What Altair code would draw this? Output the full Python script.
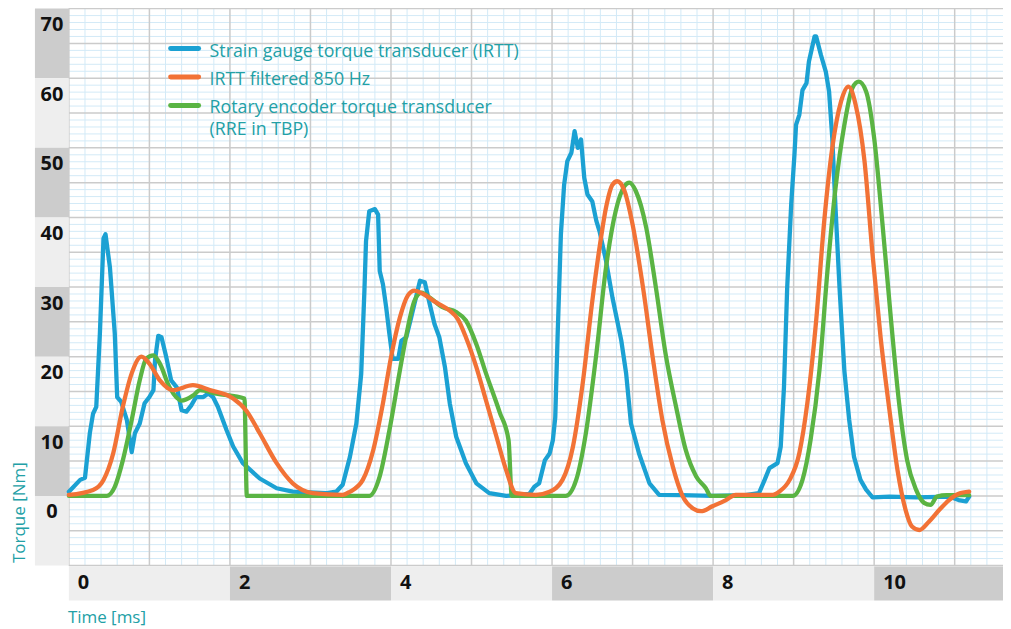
import altair as alt
import pandas as pd

# ---------------- data ----------------
blue_t = [0.00, 0.14, 0.20, 0.26, 0.30, 0.34, 0.385, 0.43, 0.455, 0.51,
          0.57, 0.60, 0.65, 0.72, 0.78, 0.82, 0.88, 0.94, 1.00, 1.05,
          1.07, 1.11, 1.15, 1.21, 1.27, 1.34, 1.40, 1.46, 1.52, 1.58,
          1.67, 1.73, 1.79, 1.85, 1.96, 2.04, 2.16, 2.37, 2.58, 2.78,
          3.20, 3.32, 3.40, 3.49, 3.57, 3.63, 3.67, 3.69, 3.73, 3.80,
          3.84, 3.86, 3.90, 3.94, 3.98, 4.02, 4.09, 4.13, 4.19, 4.25,
          4.31, 4.36, 4.42, 4.48, 4.54, 4.60, 4.67, 4.73, 4.81, 4.93,
          5.06, 5.22, 5.43, 5.72, 5.78, 5.84, 5.91, 5.97, 6.01, 6.04,
          6.07, 6.11, 6.15, 6.19, 6.24, 6.28, 6.32, 6.36, 6.40, 6.44,
          6.50, 6.55, 6.59, 6.67, 6.75, 6.86, 6.92, 6.98, 7.08, 7.21,
          7.33, 7.60, 8.00, 8.40, 8.57, 8.64, 8.70, 8.80, 8.84, 8.88,
          8.92, 8.97, 9.01, 9.03, 9.07, 9.11, 9.16, 9.19, 9.26, 9.28,
          9.34, 9.40, 9.44, 9.48, 9.52, 9.57, 9.63, 9.69, 9.75, 9.83,
          9.90, 9.98, 10.19, 10.52, 10.93, 11.05, 11.14, 11.18]
blue_v = [0.6, 2.3, 2.6, 9.0, 11.8, 12.8, 23.3, 37.0, 37.6, 32.8,
          23.3, 14.2, 13.5, 10.9, 6.3, 9.0, 10.4, 13.3, 14.2, 15.2,
          19.5, 23.0, 22.8, 19.9, 16.6, 15.6, 12.3, 12.1, 13.0, 14.2,
          14.2, 14.7, 14.2, 12.8, 9.4, 7.1, 4.7, 2.5, 1.1, 0.6,
          0.4, 0.6, 1.6, 5.6, 10.4, 17.5, 29.5, 36.6, 40.9, 41.2,
          40.4, 32.3, 30.4, 27.1, 23.3, 19.7, 19.7, 22.3, 22.8, 25.6,
          28.5, 30.9, 30.7, 27.6, 24.7, 22.8, 18.5, 13.3, 8.5, 4.7,
          1.8, 0.4, 0.0, 0.3, 1.3, 1.8, 5.1, 6.1, 8.0, 11.3,
          23.3, 37.6, 44.7, 48.1, 49.3, 52.4, 50.0, 51.2, 45.7, 43.3,
          42.3, 39.5, 38.0, 33.8, 28.5, 22.3, 17.6, 10.4, 6.1, 1.8,
          0.15, 0.1, 0.0, 0.1, 0.4, 2.3, 4.0, 4.7, 7.1, 15.6,
          29.9, 41.9, 49.0, 53.3, 54.7, 58.3, 59.3, 62.4, 66.0, 66.0,
          63.3, 60.9, 58.1, 51.4, 41.4, 29.9, 18.0, 10.9, 5.6, 2.3,
          0.9, -0.2, -0.1, -0.2, -0.1, -0.6, -0.8, -0.1]

orange_t = [0.00, 0.30, 0.43, 0.55, 0.67, 0.78, 0.90, 1.00, 1.13, 1.29,
            1.54, 1.75, 2.04, 2.20, 2.37, 2.58, 2.78, 3.03, 3.40, 3.49,
            3.65, 3.78, 3.90, 4.00, 4.11, 4.21, 4.29, 4.40, 4.56, 4.73,
            4.83, 4.93, 5.06, 5.18, 5.31, 5.43, 5.55, 5.80, 5.97, 6.13,
            6.26, 6.38, 6.50, 6.59, 6.67, 6.75, 6.81, 6.90, 7.00, 7.13,
            7.25, 7.37, 7.50, 7.62, 7.75, 7.85, 7.99, 8.16, 8.28, 8.74,
            8.82, 8.95, 9.07, 9.17, 9.28, 9.38, 9.48, 9.59, 9.68, 9.77,
            9.88, 9.98, 10.08, 10.19, 10.29, 10.39, 10.47, 10.56, 10.68, 10.81,
            10.93, 11.05, 11.18]
orange_v = [0.15, 0.86, 2.3, 6.1, 12.8, 17.6, 20.0, 19.0, 16.6, 15.2,
            15.9, 15.2, 14.0, 12.3, 9.0, 4.7, 1.8, 0.4, 0.15, 0.6,
            2.3, 6.6, 13.3, 19.9, 25.6, 28.8, 29.5, 29.0, 27.8, 26.6,
            25.4, 22.8, 18.5, 13.7, 8.5, 3.7, 0.4, 0.15, 0.6, 2.3,
            7.1, 16.1, 28.0, 35.7, 41.4, 44.7, 45.2, 43.8, 39.0, 29.9,
            19.9, 10.9, 4.2, 0.0, -1.8, -2.2, -1.5, -0.6, 0.15, 0.15,
            0.6, 2.3, 6.1, 13.3, 25.2, 39.5, 50.0, 56.7, 58.8, 56.2,
            48.1, 34.7, 22.8, 12.3, 3.7, -2.0, -4.4, -4.9, -3.7, -2.0,
            -0.6, 0.3, 0.6]

green_t = [0.00, 0.47, 0.57, 0.67, 0.78, 0.88, 0.96, 1.05, 1.13, 1.25,
           1.40, 1.54, 1.63, 1.83, 2.18, 2.21, 3.73, 3.86, 3.98, 4.11,
           4.21, 4.29, 4.38, 4.48, 4.64, 4.81, 4.93, 5.06, 5.18, 5.35,
           5.46, 5.50, 6.17, 6.30, 6.42, 6.55, 6.67, 6.79, 6.90, 6.96,
           7.04, 7.17, 7.29, 7.41, 7.54, 7.66, 7.79, 7.91, 7.97, 8.99,
           9.11, 9.21, 9.32, 9.42, 9.52, 9.63, 9.73, 9.81, 9.90, 10.00,
           10.10, 10.21, 10.31, 10.41, 10.52, 10.62, 10.70, 10.78, 10.90, 11.18]
green_v = [0.0, 0.0, 1.3, 5.1, 10.9, 16.6, 19.7, 20.2, 19.0, 15.6,
           13.7, 14.4, 15.2, 14.7, 14.0, 0.0, 0.0, 2.8, 9.4, 18.0,
           24.2, 28.0, 29.2, 28.5, 27.1, 26.4, 25.2, 21.8, 17.6, 12.0,
           8.0, 0.0, 0.0, 2.3, 9.0, 20.4, 32.8, 40.9, 44.5, 45.0,
           43.8, 38.5, 29.9, 20.4, 12.8, 6.6, 2.8, 1.1, 0.0, 0.0,
           2.3, 8.0, 18.0, 32.3, 44.2, 53.3, 58.6, 59.5, 58.1, 51.4,
           39.5, 25.2, 13.3, 5.1, 0.9, -1.0, -1.3, -0.1, 0.1, 0.1]

series_names = ["Strain gauge torque transducer (IRTT)",
                "IRTT filtered 850 Hz",
                "Rotary encoder torque transducer\n(RRE in TBP)"]
series_colors = ["#1ba1d3", "#f27236", "#5ab443"]

y_tick_labels = [70, 60, 50, 40, 30, 20, 10, 0]
x_tick_labels = [0, 2, 4, 6, 8, 10]

y_title = "Torque [Nm]"
x_title = "Time [ms]"

# ---------------- layout / style ----------------
W, H = 936, 558
XMAX = 11.6
YMIN, YMAX = -10, 70
TEAL = "#22a0a6"
MINOR = "#d3eaf7"
MAJOR = "#cbcbcb"
DARK_BAND = "#cccccc"
LIGHT_BAND = "#eeeeee"
FONT = "Open Sans"

xs = alt.Scale(domain=[0, XMAX], nice=False, zero=False)
ys = alt.Scale(domain=[YMIN, YMAX], nice=False, zero=False)

# grid lines
minor_y = pd.DataFrame({"v": [v for v in range(YMIN, YMAX + 1) if v % 5]})
major_y = pd.DataFrame({"v": list(range(YMIN, YMAX + 1, 5))})
n_minor_x = int(round(XMAX / 0.2))
minor_x = pd.DataFrame({"t": [round(i * 0.2, 2) for i in range(n_minor_x) if i % 5]})
major_x = pd.DataFrame({"t": list(range(0, int(XMAX) + 1))})

g_minor_y = alt.Chart(minor_y).mark_rule(color=MINOR, strokeWidth=1).encode(
    y=alt.Y("v:Q", scale=ys, axis=None), x=alt.value(0), x2=alt.value(W))
g_minor_x = alt.Chart(minor_x).mark_rule(color=MINOR, strokeWidth=1).encode(
    x=alt.X("t:Q", scale=xs, axis=None), y=alt.value(0), y2=alt.value(H))
g_major_y = alt.Chart(major_y).mark_rule(color=MAJOR, strokeWidth=1.5).encode(
    y=alt.Y("v:Q", scale=ys, axis=None), x=alt.value(0), x2=alt.value(W))
g_major_x = alt.Chart(major_x).mark_rule(color=MAJOR, strokeWidth=1.5).encode(
    x=alt.X("t:Q", scale=xs, axis=None), y=alt.value(0), y2=alt.value(H))

# label bands
yb = pd.DataFrame({"label": y_tick_labels})
yb["bottom"] = yb["label"] - 10
yb["shade"] = [DARK_BAND if i % 2 == 0 else LIGHT_BAND for i in range(len(yb))]
band_y = alt.Chart(yb).mark_rect().encode(
    x=alt.value(-34), x2=alt.value(0),
    y=alt.Y("label:Q", scale=ys, axis=None), y2="bottom:Q",
    color=alt.Color("shade:N", scale=None))
text_y = alt.Chart(yb).mark_text(
    align="center", baseline="middle", dy=16.5, font=FONT, fontWeight="bold",
    fontSize=20, color="#111111").encode(
    x=alt.value(-17), y=alt.Y("label:Q", scale=ys, axis=None), text="label:Q")

xb = pd.DataFrame({"label": x_tick_labels})
xb["end"] = [min(v + 2, XMAX) for v in x_tick_labels]
xb["shade"] = [LIGHT_BAND if i % 2 == 0 else DARK_BAND for i in range(len(xb))]
band_x = alt.Chart(xb).mark_rect().encode(
    x=alt.X("label:Q", scale=xs, axis=None), x2="end:Q",
    y=alt.value(H + 1), y2=alt.value(H + 35),
    color=alt.Color("shade:N", scale=None))
text_x = alt.Chart(xb).mark_text(
    align="left", baseline="middle", dx=9, font=FONT, fontWeight="bold",
    fontSize=20, color="#111111").encode(
    x=alt.X("label:Q", scale=xs, axis=None), y=alt.value(H + 18), text="label:Q")

# axis titles
t_y = alt.Chart(pd.DataFrame({"s": [y_title]})).mark_text(
    angle=270, align="center", baseline="middle", font=FONT, fontSize=17,
    color=TEAL).encode(x=alt.value(-49), y=alt.value(505), text="s:N")
t_x = alt.Chart(pd.DataFrame({"s": [x_title]})).mark_text(
    align="left", baseline="middle", font=FONT, fontSize=17,
    color=TEAL).encode(x=alt.value(-1), y=alt.value(611), text="s:N")

# series lines
def line(t, v, color, interp):
    df = pd.DataFrame({"t": t, "v": v})
    return alt.Chart(df).mark_line(
        color=color, strokeWidth=4.3, strokeJoin="round", strokeCap="round",
        interpolate=interp).encode(
        x=alt.X("t:Q", scale=xs, axis=None),
        y=alt.Y("v:Q", scale=ys, axis=None))

l_blue = line(blue_t, blue_v, series_colors[0], "linear")
l_green = line(green_t, green_v, series_colors[2], "monotone")
l_orange = line(orange_t, orange_v, series_colors[1], "monotone")

# legend
leg = pd.DataFrame({"name": series_names, "color": series_colors, "i": [0, 1, 2]})
leg_base = alt.Chart(leg).transform_calculate(py="40 + 28.5 * datum.i")
leg_sym = leg_base.mark_rule(strokeWidth=5, strokeCap="round").encode(
    y=alt.Y("py:Q", scale=None), x=alt.value(102), x2=alt.value(130),
    color=alt.Color("color:N", scale=None))
leg_txt = leg_base.mark_text(
    align="left", baseline="alphabetic", dy=8, lineBreak="\n", lineHeight=22,
    font=FONT, fontSize=17.8, color=TEAL).encode(
    y=alt.Y("py:Q", scale=None), x=alt.value(141), text="name:N")

chart = alt.layer(
    g_minor_y, g_minor_x, g_major_y, g_major_x,
    band_y, band_x, text_y, text_x, t_y, t_x,
    l_blue, l_green, l_orange,
    leg_sym, leg_txt,
).properties(
    width=W, height=H,
    autosize=alt.AutoSizeParams(type="none"),
    padding={"left": 61, "top": 0, "right": 0, "bottom": 62},
    background="white",
).configure_view(stroke=None)

chart.save("out.html", embed_options={"renderer": "svg", "actions": False})
